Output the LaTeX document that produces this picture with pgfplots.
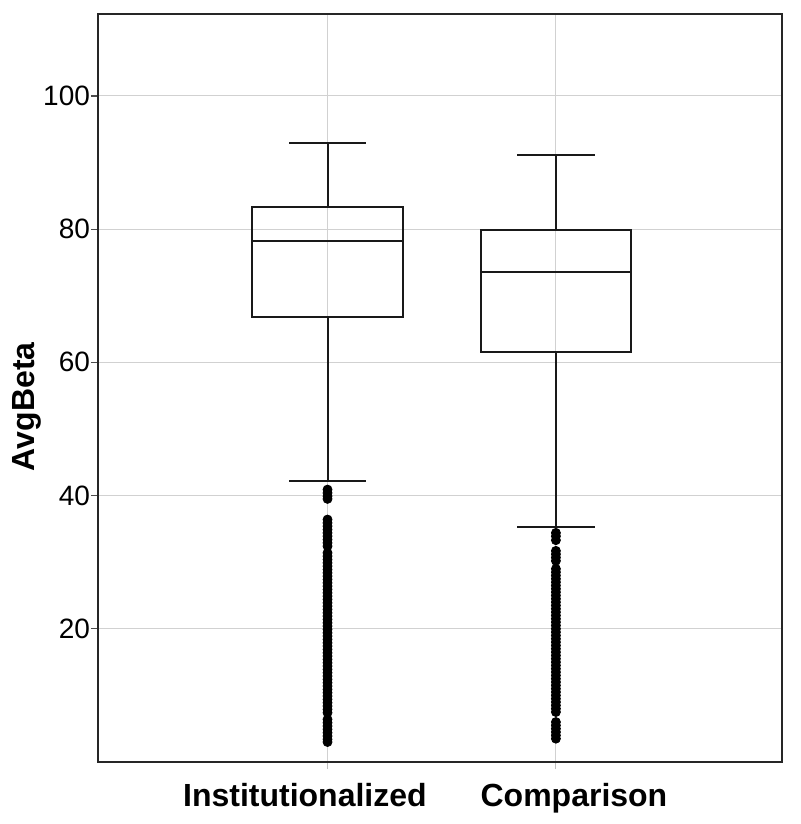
\documentclass[border=0pt]{standalone}
\usepackage{fontspec}
\setmainfont{Liberation Sans}
\usepackage{pgfplots}
\pgfplotsset{compat=1.18}
\begin{document}
\begin{tikzpicture}
\begin{axis}[
  scale only axis, width=342pt, height=374pt,
  xmin=-0.005, xmax=2.99, ymin=0, ymax=112.3,
  xtick={1,2}, xticklabels={}, ytick={20,40,60,80,100},
  grid=major, grid style={black!18, line width=0.5pt},
  axis line style={line width=1pt, black!85},
  tick align=outside, major tick length=3.5pt,
  xtick pos=bottom, ytick pos=left,
  xtick style={black!25, line width=0.5pt},
  ytick style={black!70, line width=0.6pt},
  tick label style={font=\fontsize{14}{16}\selectfont},
  yticklabel style={xshift=3pt},
  /pgf/number format/assume math mode=true,
  ylabel={\bfseries AvgBeta},
  ylabel style={font=\fontsize{16}{18}\selectfont, at={(axis description cs:-0.104,0.475)}, anchor=center},
  clip=false,
  box/.style={black!90, line width=1pt, line join=miter, line cap=rect},
]
% Institutionalized: whiskers 42.25 / 93.0, quartiles 66.75 / 83.35, median 78.25
\addplot[box] coordinates {(0.67,66.75) (1.33,66.75) (1.33,83.35) (0.67,83.35) (0.67,66.75)};
\addplot[box] coordinates {(0.67,78.25) (1.33,78.25)};
\addplot[box] coordinates {(1,83.35) (1,93.0)};
\addplot[box] coordinates {(0.834,93.0) (1.166,93.0)};
\addplot[box] coordinates {(1,66.75) (1,42.25)};
\addplot[box] coordinates {(0.834,42.25) (1.166,42.25)};
% Comparison: whiskers 35.35 / 91.06, quartiles 61.5 / 79.85, median 73.6
\addplot[box] coordinates {(1.67,61.5) (2.33,61.5) (2.33,79.85) (1.67,79.85) (1.67,61.5)};
\addplot[box] coordinates {(1.67,73.6) (2.33,73.6)};
\addplot[box] coordinates {(2,79.85) (2,91.06)};
\addplot[box] coordinates {(1.834,91.06) (2.166,91.06)};
\addplot[box] coordinates {(2,61.5) (2,35.35)};
\addplot[box] coordinates {(1.834,35.35) (2.166,35.35)};
% outliers, Institutionalized
\addplot[only marks, mark=*, mark size=2.25pt, black] coordinates {
(1,40.9) (1,40.4) (1,39.9) (1,39.5)
(1,36.4) (1,35.9) (1,35.4) (1,34.9) (1,34.4) (1,33.9) (1,33.4) (1,32.9) (1,32.4)
(1,31.4) (1,30.9) (1,30.4) (1,29.9) (1,29.4) (1,28.9) (1,28.4) (1,27.9) (1,27.4)
(1,26.9) (1,26.4) (1,25.9) (1,25.4) (1,24.9) (1,24.4) (1,23.9) (1,23.4) (1,22.9)
(1,22.4) (1,21.9) (1,21.4) (1,20.9) (1,20.4) (1,19.9) (1,19.4) (1,18.9) (1,18.4)
(1,17.9) (1,17.4) (1,16.9) (1,16.4) (1,15.9) (1,15.4) (1,14.9) (1,14.4) (1,13.9)
(1,13.4) (1,12.9) (1,12.4) (1,11.9) (1,11.4) (1,10.9) (1,10.4) (1,9.9) (1,9.4)
(1,8.9) (1,8.4) (1,7.9) (1,7.4) (1,6.4) (1,5.9) (1,5.4) (1,4.9) (1,4.4) (1,3.9)
(1,3.4) (1,3.0)};
% outliers, Comparison
\addplot[only marks, mark=*, mark size=2.25pt, black] coordinates {
(2,34.4) (2,33.9) (2,33.3) (2,31.7) (2,31.2) (2,30.7) (2,30.2)
(2,29.0) (2,28.5) (2,28.0) (2,27.5) (2,27.0) (2,26.5) (2,26.0) (2,25.5) (2,25.0)
(2,24.5) (2,24.0) (2,23.5) (2,23.0) (2,22.5) (2,22.0) (2,21.5) (2,21.0) (2,20.5)
(2,20.0) (2,19.5) (2,19.0) (2,18.5) (2,18.0) (2,17.5) (2,17.0) (2,16.5) (2,16.0)
(2,15.5) (2,15.0) (2,14.5) (2,14.0) (2,13.5) (2,13.0) (2,12.5) (2,12.0) (2,11.5)
(2,11.0) (2,10.5) (2,10.0) (2,9.5) (2,9.0) (2,8.5) (2,8.0) (2,7.5)
(2,6.0) (2,5.5) (2,5.0) (2,4.5) (2,4.0) (2,3.5)};
\node[font=\bfseries\fontsize{16}{18}\selectfont, anchor=base] at ([yshift=-22pt]axis cs:0.901,0) {Institutionalized};
\node[font=\bfseries\fontsize{16}{18}\selectfont, anchor=base] at ([yshift=-22pt]axis cs:2.079,0) {Comparison};
\coordinate (sw) at (rel axis cs:0,0);
\coordinate (ne) at (rel axis cs:1,1);
\end{axis}
\pgfresetboundingbox
\path ([shift={(-49pt,-31pt)}]sw) rectangle ([shift={(9pt,7pt)}]ne);
\end{tikzpicture}
\end{document}
